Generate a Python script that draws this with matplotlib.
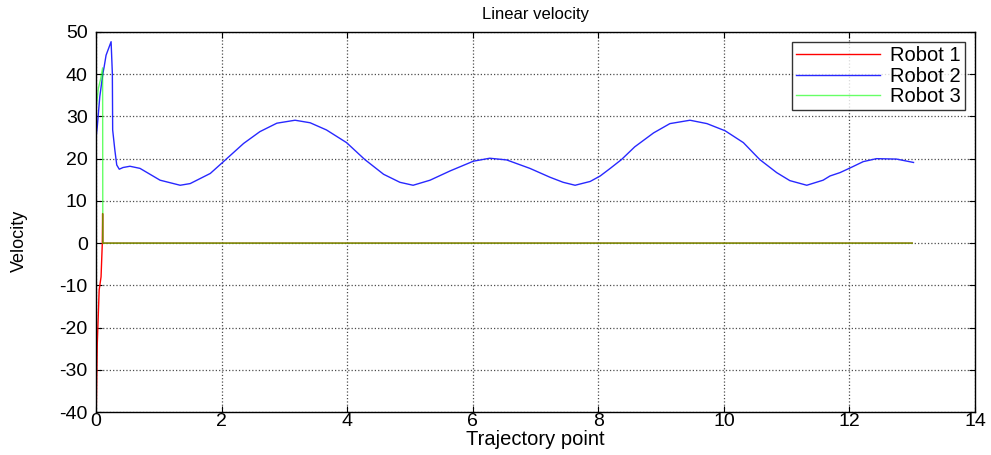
import numpy as np
import matplotlib
matplotlib.use("Agg")
import matplotlib.pyplot as plt
from matplotlib.ticker import MultipleLocator

plt.rcParams["font.family"] = ["Liberation Sans", "DejaVu Sans"]
plt.rcParams["axes.unicode_minus"] = False

# Robot 1: climbs from the lower bound, settles at zero
r1_x = [0.0, 0.005, 0.02, 0.05, 0.08, 0.10, 0.105, 0.11, 13.0]
r1_v = [-40.0, -38.8, -23.8, -11.1, -8.0, 0.0, 7.0, 0.0, 0.0]

# Robot 2: overshoot at start, then oscillating cruise speed
r2_x = [0.0, 0.005, 0.02, 0.06, 0.11, 0.13, 0.16, 0.20, 0.24, 0.26, 0.265,
        0.30, 0.33, 0.37, 0.43, 0.54, 0.70, 1.02, 1.34, 1.50, 1.82, 2.03,
        2.35, 2.61, 2.88, 3.17, 3.41, 3.67, 3.99, 4.28, 4.58, 4.84, 5.05,
        5.32, 5.64, 6.01, 6.27, 6.54, 6.91, 7.23, 7.44, 7.63, 7.87, 8.03,
        8.19, 8.37, 8.58, 8.88, 9.14, 9.46, 9.73, 10.02, 10.31, 10.57,
        10.84, 11.05, 11.32, 11.58, 11.69, 11.85, 12.01, 12.22, 12.43,
        12.75, 13.02]
r2_v = [22.4, 25.6, 27.6, 34.7, 40.2, 41.8, 44.5, 46.1, 47.7, 40.2, 26.8,
        22.0, 18.5, 17.5, 17.9, 18.2, 17.7, 14.9, 13.7, 14.1, 16.5, 19.3,
        23.6, 26.4, 28.4, 29.1, 28.5, 26.8, 23.8, 19.8, 16.3, 14.4, 13.7,
        14.9, 17.1, 19.4, 20.1, 19.7, 17.7, 15.6, 14.4, 13.7, 14.6, 15.9,
        17.7, 19.8, 22.8, 26.1, 28.3, 29.1, 28.3, 26.6, 23.8, 19.8,
        16.7, 14.8, 13.7, 14.9, 15.9, 16.7, 17.8, 19.3, 20.0,
        19.9, 19.1]

# Robot 3: quick rise, then drops to zero
r3_x = [0.0, 0.005, 0.037, 0.075, 0.105, 0.108, 13.0]
r3_v = [25.6, 32.3, 36.6, 39.0, 41.5, 0.0, 0.0]

fig = plt.figure(figsize=(9.91, 4.55), dpi=100)
ax = fig.add_axes([0.0969, 0.0945, 0.8870, 0.8352])

ax.plot(r1_x, r1_v, color="#ff0000", lw=1.0, label="Robot 1")
ax.plot(r2_x, r2_v, color="#2828ff", lw=1.0, label="Robot 2")
ax.plot(r3_x, r3_v, color="#00ff00", lw=1.0, alpha=0.6, label="Robot 3")

ax.set_xlim(0, 14)
ax.set_ylim(-40, 50)
ax.xaxis.set_major_locator(MultipleLocator(2))
ax.yaxis.set_major_locator(MultipleLocator(10))
ax.grid(True, linestyle=":", color="0.3", linewidth=0.9)
ax.tick_params(direction="in", top=True, right=True, length=4,
               labelsize=14)
ax.tick_params(axis="y", pad=6)
ax.tick_params(axis="x", pad=1)
for s in ax.spines.values():
    s.set_linewidth(1.0)

ax.set_title("Linear velocity", fontsize=12, pad=9)
ax.set_xlabel("Trajectory point", fontsize=14.5, labelpad=0)
ax.set_ylabel("Velocity", fontsize=13)
ax.yaxis.set_label_coords(-0.078, 0.45)

leg = ax.legend(loc="upper right", fontsize=14.5, handlelength=4.2,
                frameon=True, fancybox=False, borderaxespad=0.5,
                labelspacing=0.08, borderpad=0.2, handletextpad=0.5)
leg.get_frame().set_edgecolor("black")
leg.get_frame().set_linewidth(1.0)

fig.savefig("out.png", dpi=100)
